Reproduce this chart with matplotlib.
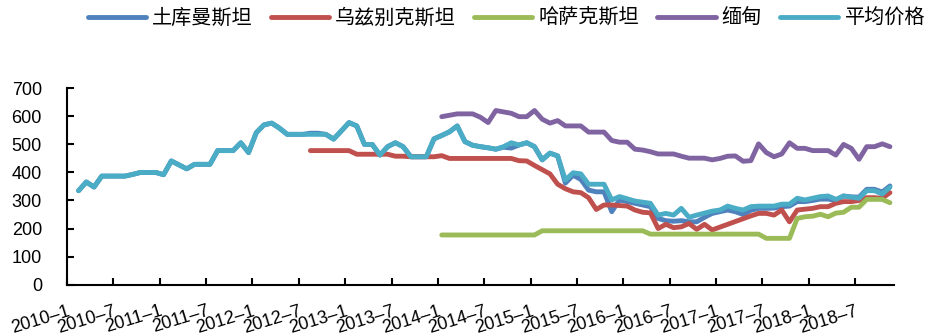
import numpy as np
import pandas as pd
import matplotlib
matplotlib.use("Agg")
import matplotlib.pyplot as plt

plt.rcParams['font.family'] = ['Liberation Sans', 'Noto Sans CJK SC']

# monthly categories on the x axis
months = pd.period_range('2010-01', '2018-11', freq='M')
tick_labels = [f"{p.year}\u2013{p.month}" for p in months[::6]]

names = ['土库曼斯坦', '乌兹别克斯坦', '哈萨克斯坦', '缅甸', '平均价格']
colors = ['#4F81BD', '#C0504D', '#9BBB59', '#8064A2', '#4BACC6']

avg_start = '2010-02'
avg = [335, 366, 348, 387, 387, 387, 387, 393, 400, 400,
       400, 392, 441, 427, 413, 429, 429, 429, 478, 478,
       478, 506, 471, 542, 570, 576, 558, 536, 536, 536,
       536, 536, 536, 519, 548, 578, 566, 500, 500, 462,
       492, 506, 492, 456, 456, 456, 520, 532, 545, 566,
       510, 497, 492, 488, 483, 492, 506, 498, 506, 492,
       445, 469, 459, 373, 399, 395, 358, 358, 358, 302,
       314, 306, 298, 294, 290, 248, 254, 248, 272, 240,
       248, 255, 262, 266, 280, 272, 266, 278, 280, 280,
       280, 287, 287, 308, 302, 308, 314, 316, 304, 316,
       312, 308, 335, 335, 323, 347]

turkm_start = '2010-02'
turkm = [335, 366, 348, 387, 387, 387, 387, 393, 400, 400,
         400, 392, 441, 427, 413, 429, 429, 429, 478, 478,
         478, 506, 471, 542, 570, 576, 558, 536, 536, 536,
         540, 540, 536, 519, 548, 578, 566, 500, 500, 462,
         492, 506, 492, 456, 456, 456, 520, 532, 545, 566,
         510, 497, 492, 488, 483, 490, 487, 498, 506, 492,
         445, 469, 459, 362, 390, 375, 337, 331, 331, 260,
         302, 296, 290, 284, 278, 236, 228, 226, 228, 224,
         224, 240, 254, 260, 266, 260, 250, 265, 272, 272,
         273, 278, 280, 296, 296, 300, 305, 305, 300, 316,
         313, 312, 340, 340, 330, 352]

uzb_start = '2012-08'
uzb = [478, 478, 478, 478, 478, 478, 465, 465, 465, 465,
       465, 458, 458, 456, 456, 456, 456, 460, 450, 450,
       450, 450, 450, 450, 450, 450, 450, 442, 441, 425,
       410, 395, 358, 342, 331, 328, 310, 268, 284, 284,
       282, 280, 266, 258, 256, 200, 215, 203, 206, 218,
       197, 215, 195, 205, 215, 225, 235, 245, 254, 254,
       248, 266, 224, 266, 269, 272, 278, 278, 290, 296,
       296, 300, 310, 310, 308, 328]

kaz_start = '2014-01'
kaz = [177, 177, 177, 177, 177, 177, 177, 177, 177, 177,
       177, 177, 177, 192, 192, 192, 192, 192, 192, 192,
       192, 192, 192, 192, 192, 192, 192, 180, 180, 180,
       180, 180, 180, 180, 180, 180, 180, 180, 180, 180,
       180, 180, 165, 165, 165, 165, 236, 242, 244, 251,
       242, 255, 258, 276, 276, 304, 304, 304, 292]

mya_start = '2014-01'
mya = [599, 604, 609, 609, 609, 597, 578, 621, 616, 611,
       599, 599, 621, 590, 576, 585, 566, 566, 566, 544,
       544, 544, 514, 508, 508, 483, 480, 474, 466, 466,
       466, 458, 451, 451, 451, 445, 450, 458, 459, 440,
       442, 502, 471, 456, 466, 506, 486, 486, 478, 478,
       478, 462, 500, 486, 447, 492, 492, 502, 492]

series = [(turkm_start, turkm), (uzb_start, uzb), (kaz_start, kaz),
          (mya_start, mya), (avg_start, avg)]

fig = plt.figure(figsize=(9.29, 3.36), dpi=100)
ax = fig.add_axes([0.0721, 0.153, 0.890, 0.584])

for name, color, (start, vals) in zip(names, colors, series):
    i0 = months.get_loc(pd.Period(start, freq='M'))
    x = np.arange(i0, i0 + len(vals)) + 0.5
    ax.plot(x, vals, color=color, lw=3.5, label=name,
            solid_capstyle='round', solid_joinstyle='round')

ax.set_xlim(0, len(months))
ax.set_ylim(0, 700)
ax.set_yticks(range(0, 701, 100))
ax.set_xticks(np.arange(0, len(months), 6))
ax.set_xticklabels(tick_labels, rotation=17, ha='right', va='top',
                   rotation_mode='anchor', fontsize=13)
ax.tick_params(axis='y', direction='in', length=5, width=1.5, labelsize=13, pad=18)
ax.tick_params(axis='x', direction='in', length=5, width=1.5, pad=13)
for s in ['top', 'right']:
    ax.spines[s].set_visible(False)
for s in ['left', 'bottom']:
    ax.spines[s].set_linewidth(1.5)

fig.legend(loc='center', bbox_to_anchor=(0.545, 0.945), ncol=5,
           frameon=False, fontsize=14.5, handlelength=2.9, handletextpad=0.3,
           columnspacing=0.9)

fig.savefig('out.png', dpi=100)
